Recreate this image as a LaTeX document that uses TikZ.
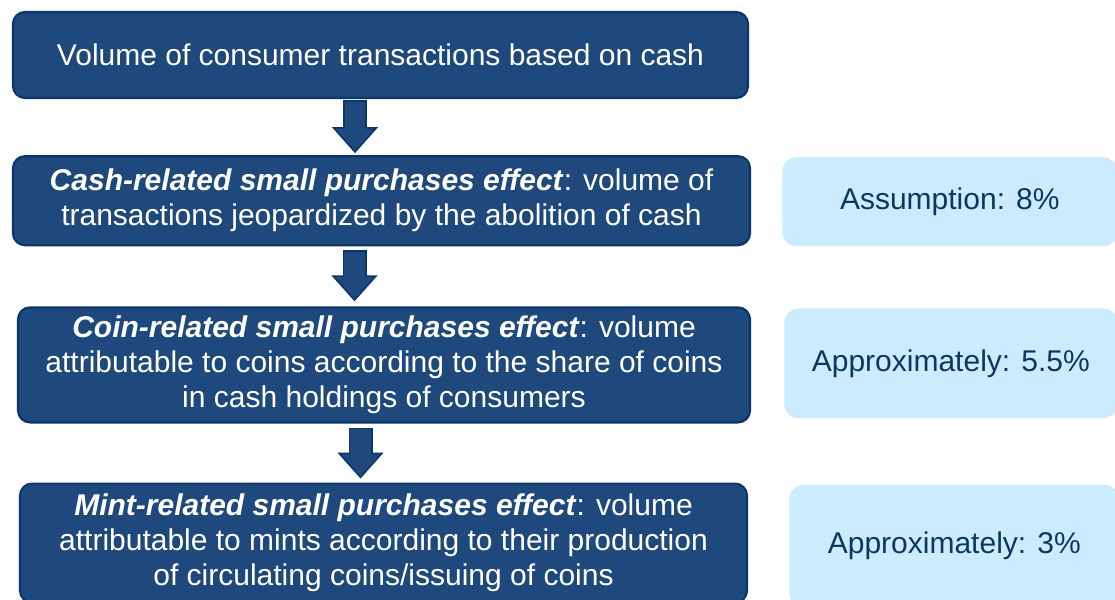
\documentclass[tikz,border=0pt]{standalone}
\usepackage{fontspec}
\setmainfont{Liberation Sans}
\usetikzlibrary{arrows.meta,positioning}

\definecolor{navy}{RGB}{31,72,124}
\definecolor{navyline}{RGB}{10,55,102}
\definecolor{pale}{RGB}{204,235,255}
\definecolor{paletext}{RGB}{12,54,100}

\begin{document}
\begin{tikzpicture}[
  every node/.style={font=\fontsize{30}{35}\selectfont},
  box/.style={draw=navyline, line width=2.2pt, fill=navy, text=white,
              rounded corners=12pt, align=center, inner sep=0pt},
  note/.style={fill=pale, text=paletext, rounded corners=14pt,
               align=center, inner sep=0pt},
  flow/.style={draw=navyline, line width=24pt,
               -{Triangle[length=26pt, width=46pt, line width=1.6pt, fill=navy]},
               postaction={draw=navy, line width=20.5pt, -,
                           shorten <=1.6pt, shorten >=21pt}}
]
  \useasboundingbox (0,0) rectangle (1115pt,-599pt);

  \node[box, minimum width=735pt, minimum height=86pt] (volume) at (380.5pt,-55pt)
    {Volume of consumer transactions based on cash};
  \node[box, minimum width=737pt, minimum height=89pt,
        below=56pt of volume, xshift=1pt] (cash)
    {\textbf{\textit{Cash-related small purchases effect}}: volume of\\
     transactions jeopardized by the abolition of cash};
  \node[box, minimum width=732pt, minimum height=115pt,
        below=60pt of cash, xshift=2.5pt] (coin)
    {\textbf{\textit{Coin-related small purchases effect}}: volume\\
     attributable to coins according to the share of coins\\
     in cash holdings of consumers};
  \node[box, minimum width=727pt, minimum height=119pt,
        below=59pt of coin, xshift=-0.5pt] (mint)
    {\textbf{\textit{Mint-related small purchases effect}}: volume\\
     attributable to mints according to their production\\
     of circulating coins/issuing of coins};

  \node[note, minimum width=335pt, minimum height=89pt,
        right=31pt of cash, yshift=-1pt] (assume) {Assumption: 8\%};
  \node[note, minimum width=333pt, minimum height=110pt,
        right=33pt of coin, yshift=1.5pt] (approxcoin) {Approximately: 5.5\%};
  \node[note, minimum width=330pt, minimum height=122pt,
        right=41pt of mint, yshift=-3pt] (approxmint) {Approximately: 3\%};

  \draw[flow] ([xshift=-25.5pt,yshift=-1pt]volume.south) -- ([xshift=-26.5pt,yshift=2pt]cash.north);
  \draw[flow] ([xshift=-27pt,yshift=-4pt]cash.south) -- ([xshift=-29.5pt,yshift=5pt]coin.north);
  \draw[flow] ([xshift=-23.5pt,yshift=-4pt]coin.south) -- ([xshift=-23pt,yshift=4pt]mint.north);
\end{tikzpicture}
\end{document}
